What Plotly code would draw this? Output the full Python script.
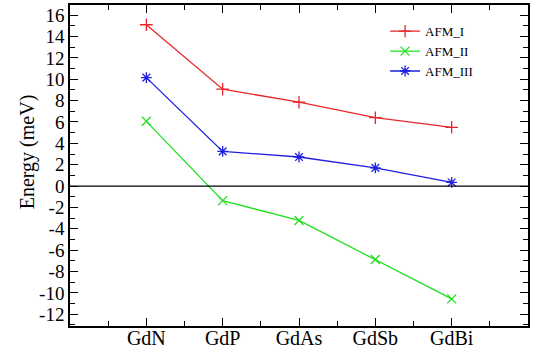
import plotly.graph_objects as go

compounds = ["GdN", "GdP", "GdAs", "GdSb", "GdBi"]
xpos = [1, 2, 3, 4, 5]
afm_i = [15.1, 9.07, 7.85, 6.4, 5.5]
afm_ii = [6.06, -1.36, -3.22, -6.87, -10.56]
afm_iii = [10.15, 3.25, 2.72, 1.7, 0.34]
yticks = list(range(-12, 17, 2))

font = "Liberation Serif"
fig = go.Figure()
series = [("AFM_I", afm_i, "#e8262a", "cross-thin"),
          ("AFM_II", afm_ii, "#22e01f", "x-thin"),
          ("AFM_III", afm_iii, "#1f1fe0", "asterisk")]
for name, ys, col, sym in series:
    fig.add_trace(go.Scatter(
        x=xpos, y=ys, name=name, mode="lines+markers",
        line=dict(color=col, width=1.3),
        marker=dict(symbol=sym, size=9, color=col, line=dict(color=col, width=1.3)),
    ))

fig.add_hline(y=0, line=dict(color="black", width=1.2))

axis_common = dict(showline=True, linecolor="black", linewidth=1.5, mirror="allticks",
                   ticks="inside", ticklen=8, tickcolor="black", tickwidth=1.3,
                   showgrid=False, zeroline=False, automargin=False)
fig.update_xaxes(range=[0, 6], tickvals=xpos, ticktext=compounds,
                 tickfont=dict(family=font, size=20, color="black"),
                 ticklabelstandoff=-7,
                 minor=dict(ticks="inside", ticklen=5, tickcolor="black", tickwidth=1.2, dtick=0.5, tick0=0.5),
                 **axis_common)
fig.update_yaxes(range=[-13.1, 16.95], tickvals=yticks, ticktext=[str(v) for v in yticks],
                 tickfont=dict(family=font, size=19, color="black"),
                 minor=dict(ticks="inside", ticklen=5, tickcolor="black", tickwidth=1.2, dtick=1, tick0=1),
                 **axis_common)

fig.add_annotation(text="Energy (meV)", textangle=-90, xref="paper", yref="paper",
                   x=(27 - 70) / 459, y=0.5415, xanchor="center", yanchor="middle",
                   showarrow=False, font=dict(family=font, size=20, color="black"))

fig.update_layout(
    width=537, height=353,
    margin=dict(l=70, r=8.5, t=4.7, b=27),
    plot_bgcolor="white", paper_bgcolor="white",
    showlegend=True,
    legend=dict(x=0.688, y=0.965, xanchor="left", yanchor="top",
                font=dict(family=font, size=13, color="black"),
                bgcolor="rgba(0,0,0,0)", itemwidth=30, tracegroupgap=0),
)
fig.write_html("out.html")
